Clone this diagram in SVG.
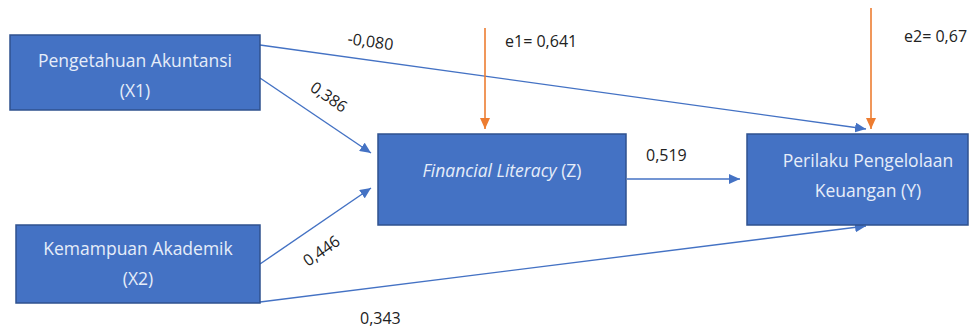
<svg xmlns="http://www.w3.org/2000/svg" width="979" height="329" viewBox="0 0 979 329">
<style>
.box{fill:#4472C4;stroke:#2F528F;stroke-width:1.5}
.nt{font-family:"Open Sans","Liberation Sans",sans-serif;font-size:17.5px;fill:#e6edf9;text-anchor:middle}
.lb{font-family:"Open Sans","Liberation Sans",sans-serif;font-size:16px;fill:#222222}
.c{stroke:#4472C4;stroke-width:1.4;fill:none;marker-end:url(#ab)}
.o{stroke:#ED7D31;stroke-width:1.6;fill:none;marker-end:url(#ao)}
</style>
<defs>
<marker id="ab" markerUnits="userSpaceOnUse" markerWidth="12" markerHeight="10" refX="11" refY="5" orient="auto"><path d="M0,0 L11,5 L0,10 Z" fill="#4472C4"/></marker>
<marker id="ao" markerUnits="userSpaceOnUse" markerWidth="12" markerHeight="10" refX="11" refY="5" orient="auto"><path d="M0,0 L11,5 L0,10 Z" fill="#ED7D31"/></marker>
</defs>
<rect width="979" height="329" fill="#ffffff"/>
<g id="connectors">
<line class="c" x1="260" y1="45" x2="866" y2="129"/>
<line class="c" x1="260" y1="78" x2="371" y2="153"/>
<line class="c" x1="260" y1="264" x2="371" y2="188"/>
<line class="c" x1="260" y1="302" x2="866" y2="226"/>
<line class="c" x1="627" y1="179" x2="740" y2="179"/>
<line class="o" x1="485" y1="28" x2="485" y2="129"/>
<line class="o" x1="871" y1="8" x2="871" y2="129"/>
</g>
<g id="labels">
<text class="lb" transform="translate(347,44) rotate(8)">-0,080</text>
<text class="lb" transform="translate(309,90) rotate(35)">0,386</text>
<text class="lb" transform="translate(308,267) rotate(-35)">0,446</text>
<text class="lb" x="360" y="324">0,343</text>
<text class="lb" x="646" y="161">0,519</text>
<text class="lb" x="505" y="47">e1= 0,641</text>
<text class="lb" x="904" y="42">e2= 0,67</text>
</g>
<g id="x1">
<rect class="box" x="10" y="35" width="250" height="75"/>
<text class="nt" x="135" y="67">Pengetahuan Akuntansi</text>
<text class="nt" x="135" y="97">(X1)</text>
</g>
<g id="x2">
<rect class="box" x="16" y="225" width="244" height="78"/>
<text class="nt" x="138" y="255">Kemampuan Akademik</text>
<text class="nt" x="138" y="285">(X2)</text>
</g>
<g id="z">
<rect class="box" x="378" y="134" width="248" height="91"/>
<text class="nt" x="502" y="177"><tspan font-style="italic">Financial Literacy</tspan> (Z)</text>
</g>
<g id="y">
<rect class="box" x="747" y="134" width="221" height="91"/>
<text class="nt" x="868" y="167">Perilaku Pengelolaan</text>
<text class="nt" x="868" y="197">Keuangan (Y)</text>
</g>
</svg>
